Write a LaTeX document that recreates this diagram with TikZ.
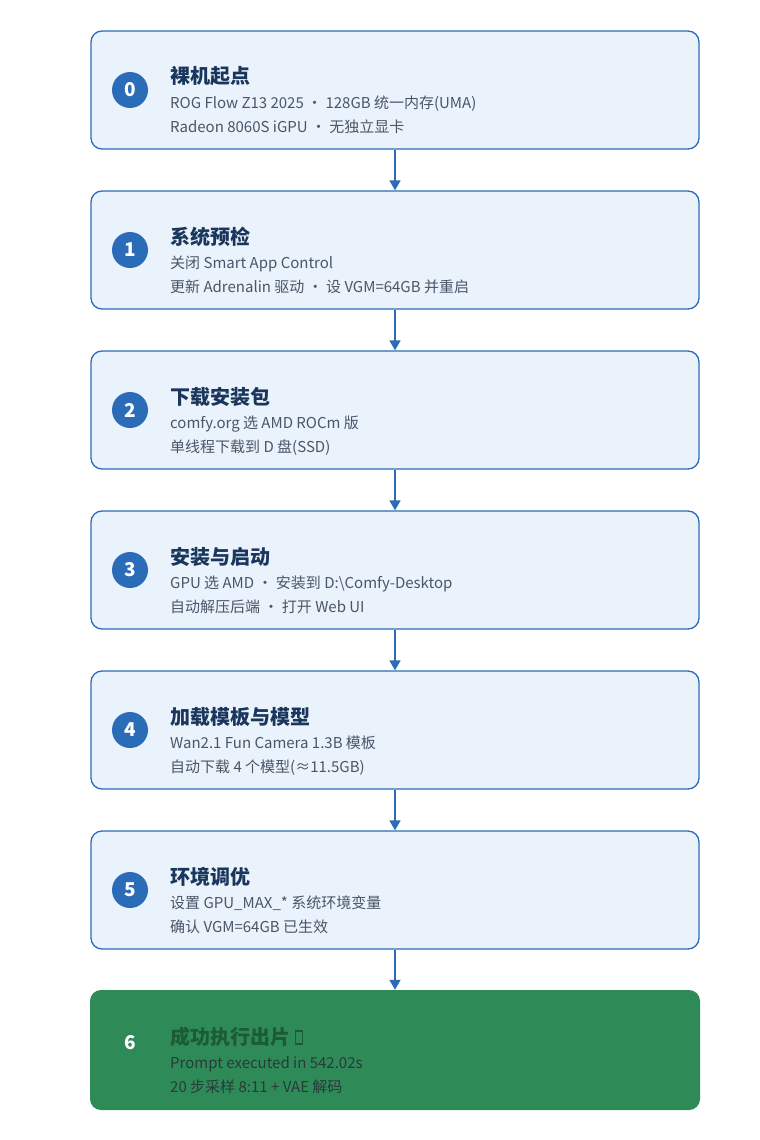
\documentclass[tikz,border=0pt]{standalone}
\usepackage{fontspec}
\setmainfont{Noto Sans CJK SC}
\usetikzlibrary{arrows.meta}
\definecolor{bfill}{HTML}{EAF2FB}
\definecolor{bdraw}{HTML}{2B6CB8}
\definecolor{ttl}{HTML}{1A365D}
\definecolor{sub}{HTML}{4A5568}
\definecolor{gfill}{HTML}{2E8B57}
\definecolor{gttl}{HTML}{1D5A38}
\begin{document}
\begin{tikzpicture}[x=1pt,y=-1pt,
  box/.style={draw=bdraw,fill=bfill,line width=1.3pt,rounded corners=11pt,minimum width=608pt,minimum height=118pt,inner sep=0pt},
  gbox/.style={fill=gfill,rounded corners=11pt,minimum width=610pt,minimum height=120pt,inner sep=0pt},
  num/.style={circle,fill=bdraw,minimum size=36pt,inner sep=0pt,text=white,font=\bfseries\fontsize{19}{19}\selectfont},
  ttlS/.style={anchor=base west,text=ttl,font=\bfseries\fontsize{20}{20}\selectfont,inner sep=0pt},
  subS/.style={anchor=base west,text=sub,font=\fontsize{15}{15}\selectfont,inner sep=0pt},
  arr/.style={draw=bdraw,line width=1.5pt,-{Triangle[length=10pt,width=11pt]}}]
\useasboundingbox (0,0) rectangle (760,1140);
\foreach \i/\t/\a/\b in {
 0/裸机起点/ROG Flow Z13 2025 · 128GB 统一内存(UMA)/Radeon 8060S iGPU · 无独立显卡,
 1/系统预检/关闭 Smart App Control/更新 Adrenalin 驱动 · 设 VGM=64GB 并重启,
 2/下载安装包/comfy.org 选 AMD ROCm 版/单线程下载到 D 盘(SSD),
 3/安装与启动/GPU 选 AMD · 安装到 D:\textbackslash Comfy-Desktop/自动解压后端 · 打开 Web UI,
 4/加载模板与模型/Wan2.1 Fun Camera 1.3B 模板/自动下载 4 个模型(≈11.5GB),
 5/环境调优/设置 GPU\_MAX\_* 系统环境变量/确认 VGM=64GB 已生效}{
 \pgfmathsetmacro\yy{90+160*\i}
 \node[box] (b\i) at (395,\yy) {};
 \node[num] (n\i) at (130,\yy) {\i};
 \node[ttlS] (t\i) at (170,\yy-6) {\t};
 \node[subS] (s\i) at (170,\yy+18) {\a};
 \node[subS] (u\i) at (170,\yy+42) {\b};
}
\node[gbox] (b6) at (395,1050) {};
\node[text=white,font=\bfseries\fontsize{19}{19}\selectfont] (n6) at (130,1043) {6};
\node[ttlS,text=gttl] (t6) at (170,1044) {成功执行出片 \tikz[baseline=0pt]\draw[gttl,line width=1.3pt] (0,0) rectangle (7,-13);};
\node[subS,text=sub!80!gfill!60!black] (s6) at (170,1068) {Prompt executed in 542.02s};
\node[subS,text=sub!80!gfill!60!black] (u6) at (170,1092) {20 步采样 8:11 + VAE 解码};
\foreach \i [evaluate=\i as \j using int(\i+1)] in {0,...,5}
 \draw[arr] (b\i.south) -- (b\j.north);
\end{tikzpicture}
\end{document}
